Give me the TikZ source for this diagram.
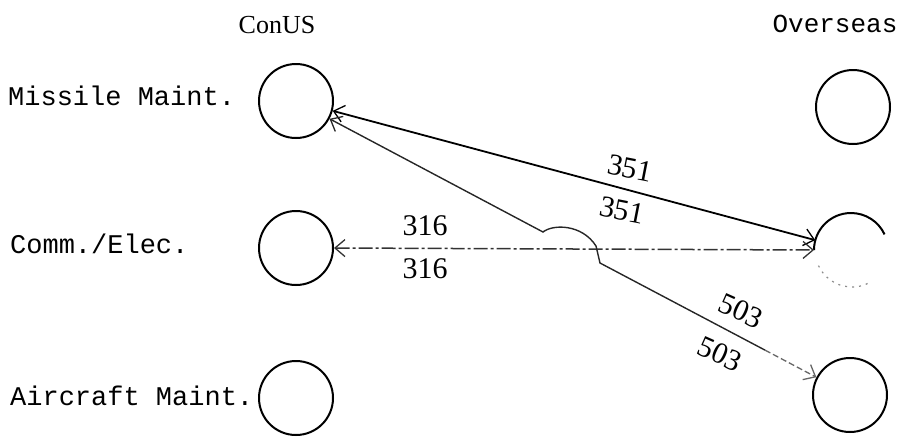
\documentclass[tikz,border=0pt]{standalone}
\usepackage{fontspec}
\setmainfont{Liberation Serif}
\newfontfamily\tw{Liberation Mono}
\usetikzlibrary{arrows.meta,calc}
\tikzset{vtip/.tip={Straight Barb[length=10pt,width=17pt,line width=1.3pt]}}
\begin{document}
\begin{tikzpicture}[x=1pt,y=-1pt,
  unit/.style={circle,draw,line width=2pt,minimum size=74pt,inner sep=0pt},
  rowlab/.style={anchor=base west,inner sep=0pt,font=\tw\fontsize{27}{30}\selectfont},
  headlab/.style={anchor=base,inner sep=0pt},
  numlab/.style={inner sep=0pt,font=\fontsize{30}{32}\selectfont},
  flow/.style={line width=1.5pt,{vtip}-{vtip}}]
\useasboundingbox (0,0) rectangle (903,437);
% headers
\node[headlab,font=\fontsize{26}{28}\selectfont] (hc) at (277,33) {ConUS};
\node[headlab,font=\tw\fontsize{26}{28}\selectfont] (ho) at (835,32) {Overseas};
% row labels
\node[rowlab] (lm) at (8,105) {Missile Maint.};
\node[rowlab] (lc) at (10,253) {Comm./Elec.};
\node[rowlab] (la) at (10,405) {Aircraft Maint.};
% circles
\node[unit] (c1) at (296,101) {};
\node[unit] (c2) at (296,248) {};
\node[unit] (c3) at (296,398) {};
\node[unit] (o1) at (853,107) {};
\node[unit,draw=none] (o2) at (852,250) {};
\node[unit] (o3) at (850,395) {};
% partial overseas comm circle
\draw[line width=2pt] (o2.west) arc[start angle=180,end angle=25,radius=37pt];
\draw[line width=1.2pt,black!45,dash pattern=on 2pt off 5pt] (852,250) ++(205:37pt) arc[start angle=205,end angle=300,radius=37pt];
% 351 flow
\draw[flow,line width=1.8pt] (c1) -- (o2);
% 316 flow
\draw[flow,black!80,dash pattern=on 14pt off 3pt on 3pt off 3pt] (c2.east) -- (o2.west);
% 503 flow with hop
\coordinate (h1) at (543,232);
\coordinate (h2) at (596,246);
\coordinate (h3) at (600,263);
\coordinate (h4) at ($(h3)!0.66!(o3)$);
\draw[line width=1.4pt,black!85,{vtip}-] (c1) -- (h1)
  .. controls (553,224) and (582,224) .. (h2) -- (h3) -- (h4);
\draw[line width=1.3pt,black!60,dash pattern=on 6pt off 3pt,-{vtip}] (h4) -- (o3);
% numbers
\node[numlab] (n316a) at (425,226) {316};
\node[numlab] (n316b) at (425,269) {316};
\node[numlab,rotate=-11] (n351a) at (630,168) {351};
\node[numlab,rotate=-11] (n351b) at (622,210) {351};
\node[numlab,rotate=-24] (n503a) at (741,311) {503};
\node[numlab,rotate=-24] (n503b) at (720,354) {503};
\end{tikzpicture}
\end{document}
